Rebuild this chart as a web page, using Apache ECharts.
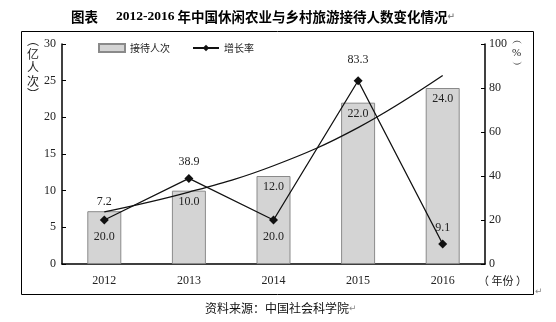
<!DOCTYPE html>
<html>
<head>
<meta charset="utf-8">
<script src="https://cdn.jsdelivr.net/npm/echarts@6/dist/echarts.min.js"></script>
<style>
html,body{margin:0;padding:0;background:#fff;}
#c{width:556px;height:322px;}
</style>
</head>
<body>
<div id="c"></div>
<script>
const years = ['2012', '2013', '2014', '2015', '2016'];
const visitors = [7.2, 10.0, 12.0, 22.0, 24.0];
const growth = [20.0, 38.9, 20.0, 83.3, 9.1];
const trend = [7.1, 9.8, 13.4, 18.6, 25.7];
const growthLabelPos = ['bottom', 'top', 'bottom', 'top', 'top'];
const visitorLabelPos = ['top', 'insideTop', 'insideTop', 'insideTop', 'insideTop'];

const SERIF = 'Liberation Serif, Noto Sans CJK SC, serif';
const CJK = 'Noto Sans CJK SC, sans-serif';

const chart = echarts.init(document.getElementById('c'), null, {renderer: 'canvas'});

chart.setOption({
  animation: false,
  backgroundColor: '#fff',
  textStyle: {fontFamily: SERIF, color: '#222'},
  title: {
    text: '{a|图表}    {b|2012-2016}{a| 年中国休闲农业与乡村旅游接待人数变化情况}{c|↵}',
    left: 66, top: 3,
    textStyle: {
      rich: {
        a: {fontFamily: CJK, fontWeight: 'bold', fontSize: 13.5, color: '#000'},
        b: {fontFamily: 'Liberation Serif', fontWeight: 'bold', fontSize: 13.5, color: '#000'},
        c: {fontFamily: 'DejaVu Sans', fontSize: 9, color: '#888'}
      }
    }
  },
  legend: {
    left: 93, top: 38,
    itemWidth: 26, itemHeight: 8, itemGap: 22,
    textStyle: {fontFamily: CJK, fontSize: 10, color: '#222'},
    data: [{name: '接待人次', icon: 'rect'}, {name: '增长率'}]
  },
  grid: {left: 62, right: 71, top: 44, bottom: 58},
  xAxis: {
    type: 'category',
    data: years,
    axisLine: {lineStyle: {color: '#000', width: 1.5}},
    axisTick: {inside: true, length: 4, lineStyle: {color: '#000'}},
    axisLabel: {color: '#222', fontSize: 12, fontFamily: SERIF, margin: 11}
  },
  yAxis: [
    {
      type: 'value', min: 0, max: 30, interval: 5,
      axisLine: {show: true, lineStyle: {color: '#000', width: 1.5}},
      axisTick: {show: true, inside: true, length: 4, lineStyle: {color: '#000'}},
      splitLine: {show: false},
      axisLabel: {color: '#222', fontSize: 12, fontFamily: SERIF, margin: 6}
    },
    {
      type: 'value', min: 0, max: 100, interval: 20,
      axisLine: {show: true, lineStyle: {color: '#000', width: 1.5}},
      axisTick: {show: true, inside: true, length: 4, lineStyle: {color: '#000'}},
      splitLine: {show: false},
      axisLabel: {color: '#222', fontSize: 12, fontFamily: SERIF, margin: 4}
    }
  ],
  series: [
    {
      name: '接待人次',
      type: 'bar',
      barWidth: 34,
      itemStyle: {color: '#d4d4d4', borderColor: '#8a8a8a', borderWidth: 1},
      data: visitors.map((v, i) => ({
        value: v,
        label: {show: true, position: visitorLabelPos[i], distance: i === 0 ? 3 : 5,
          formatter: (p) => p.value.toFixed(1), fontSize: 12, fontFamily: SERIF, color: '#222'}
      })),
      z: 1
    },
    {
      name: '增长率',
      type: 'line',
      yAxisIndex: 1,
      symbol: 'diamond',
      symbolSize: 9,
      lineStyle: {color: '#111', width: 1.3},
      itemStyle: {color: '#111'},
      data: growth.map((v, i) => ({
        value: v,
        label: {show: true, position: growthLabelPos[i], distance: i === 3 ? 10 : 6,
          formatter: (p) => p.value.toFixed(1), fontSize: 12, fontFamily: SERIF, color: '#222'}
      })),
      z: 3
    },
    {
      name: '趋势',
      type: 'line',
      smooth: 0.4,
      symbol: 'none',
      lineStyle: {color: '#111', width: 1.3},
      data: trend,
      silent: true,
      z: 2
    }
  ],
  graphic: [
    {type: 'rect', shape: {x: 21.5, y: 31.5, width: 512, height: 263}, style: {fill: null, stroke: '#000', lineWidth: 1}, silent: true, z: -1},
    {type: 'text', left: 27, top: 34, style: {text: '︵\n亿\n人\n次\n︶', font: '12px Noto Sans CJK SC', fill: '#222', lineHeight: 13.5, align: 'center'}},
    {type: 'text', left: 512, top: 35, style: {text: '︵\n%\n︶', font: '11px Liberation Serif', fill: '#222', lineHeight: 12, align: 'center'}},
    {type: 'text', left: 478, top: 275, style: {text: '（ 年份 ）', font: '11px Noto Sans CJK SC', fill: '#222'}},
    {type: 'text', left: 535, top: 287, style: {text: '↵', font: '9px DejaVu Sans', fill: '#888'}},
    {type: 'text', left: 205, top: 302, style: {text: '资料来源：中国社会科学院', font: '12px Noto Sans CJK SC', fill: '#111'}},
    {type: 'text', left: 349, top: 304, style: {text: '↵', font: '9px DejaVu Sans', fill: '#888'}}
  ]
});
</script>
</body>
</html>
